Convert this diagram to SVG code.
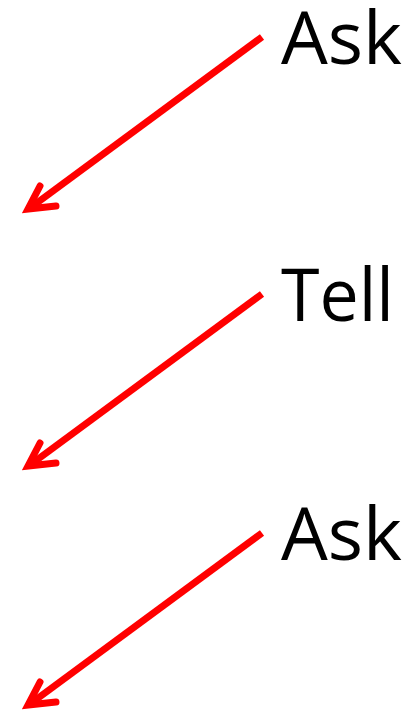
<svg xmlns="http://www.w3.org/2000/svg" width="417" height="711" viewBox="0 0 417 711">
<style>
.lbl{font-family:"Open Sans","Noto Sans","Liberation Sans",sans-serif;font-size:74px;fill:#000}
.arr{fill:none;stroke:#ff0000;stroke-width:7}
.shaft{stroke-linecap:butt}
.head{stroke-linecap:round;stroke-linejoin:miter;stroke-miterlimit:10}
</style>
<defs>
<g id="arrow">
<path class="arr shaft" d="M262,37 L30,208"/>
<path class="arr head" d="M40,186 L28,209 L56,206"/>
</g>
</defs>
<g id="connectors">
<use href="#arrow"/>
<use href="#arrow" transform="translate(0,257)"/>
<use href="#arrow" transform="translate(0,496)"/>
</g>
<g id="node-ask1"><text class="lbl" x="281" y="64" textLength="121" lengthAdjust="spacingAndGlyphs">Ask</text></g>
<g id="node-tell"><text class="lbl" x="281" y="321" textLength="113" lengthAdjust="spacingAndGlyphs">Tell</text></g>
<g id="node-ask2"><text class="lbl" x="281" y="560" textLength="121" lengthAdjust="spacingAndGlyphs">Ask</text></g>
</svg>
